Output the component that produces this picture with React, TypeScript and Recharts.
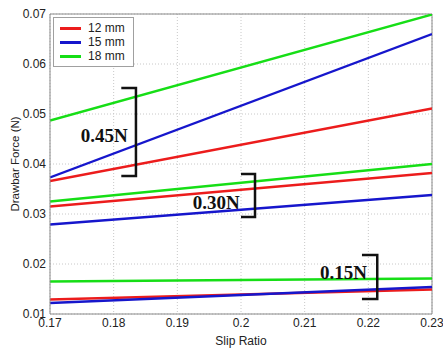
import {
  LineChart, Line, XAxis, YAxis, CartesianGrid, Legend,
  ReferenceLine, ReferenceDot,
} from "recharts";

// ── Data ─────────────────────────────────────────────────────────────────────

const slipRatio = [0.17, 0.23];
const xTicks = [0.17, 0.18, 0.19, 0.2, 0.21, 0.22, 0.23];
const yTicks = [0.01, 0.02, 0.03, 0.04, 0.05, 0.06, 0.07];

const sizeLabels = ["12 mm", "15 mm", "18 mm"];
const sizeColors = ["#ec1c1c", "#1616cc", "#16de16"];

// drawbar force (N), three groups of runs, per wheel size
const forceHigh12 = [0.0366, 0.0511];
const forceHigh15 = [0.0373, 0.0660];
const forceHigh18 = [0.0487, 0.0699];
const forceMid12 = [0.0315, 0.0382];
const forceMid15 = [0.0279, 0.0338];
const forceMid18 = [0.0325, 0.0400];
const forceLow12 = [0.0129, 0.0149];
const forceLow15 = [0.0122, 0.0154];
const forceLow18 = [0.0165, 0.0171];

// bracket annotations: [x left, x right, y top, y bottom], text anchor [x, y]
const bracketLabels = ["0.45N", "0.30N", "0.15N"];
const bracketBoxes = [
  [0.1812, 0.1835, 0.0552, 0.0376],
  [0.2000, 0.2022, 0.0380, 0.0294],
  [0.2190, 0.2214, 0.0218, 0.0130],
];
const bracketTextAt = [
  [0.1822, 0.0458],
  [0.1998, 0.0324],
  [0.2198, 0.0184],
];

// ── Built tables ─────────────────────────────────────────────────────────────

const seriesSets = [
  [forceHigh12, forceHigh15, forceHigh18],
  [forceMid12, forceMid15, forceMid18],
  [forceLow12, forceLow15, forceLow18],
];

const table = slipRatio.map((x, i) => {
  const row: Record<string, number> = { x };
  seriesSets.forEach((set, g) => set.forEach((vals, s) => { row[`g${g}s${s}`] = vals[i]; }));
  return row;
});

const bracketData = bracketBoxes.map(([x0, x1, yt, yb]) => [
  { x: x0, y: yt }, { x: x1, y: yt }, { x: x1, y: yb }, { x: x0, y: yb },
]);

const FONT = "'Liberation Sans', Arial, sans-serif";
const fmt = (v: number) => String(Number(v.toFixed(2)));

function LegendBox() {
  return (
    <div style={{
      border: "1px solid #a0a0a0", background: "#fff", padding: "3px 8px 3px 6px",
      fontFamily: FONT, fontSize: 12, color: "#222", lineHeight: "14px",
    }}>
      {sizeLabels.map((l, i) => (
        <div key={l} style={{ display: "flex", alignItems: "center" }}>
          <span style={{ display: "inline-block", width: 21, height: 3, background: sizeColors[i], marginRight: 7 }} />
          {l}
        </div>
      ))}
    </div>
  );
}

export default function App() {
  return (
    <div style={{ position: "absolute", left: 0, top: 0, background: "#fff" }}>
      <LineChart width={443} height={348} data={table}
        margin={{ top: 14, right: 11, left: 0, bottom: 0 }}>
        <CartesianGrid stroke="#c8c8c8" strokeDasharray="1 2" />
        <XAxis
          dataKey="x" type="number" domain={[0.17, 0.23]} ticks={xTicks}
          tickFormatter={fmt} height={34} tickSize={0} tickMargin={4}
          stroke="#8a8a8a" tick={{ fill: "#222", fontSize: 12, fontFamily: FONT }}
          allowDataOverflow
          label={{ value: "Slip Ratio", position: "insideBottom", offset: 3,
            style: { fill: "#222", fontSize: 12, fontFamily: FONT } }}
        />
        <YAxis
          type="number" domain={[0.01, 0.07]} ticks={yTicks} tickFormatter={fmt}
          width={50} tickSize={0} tickMargin={4} stroke="#8a8a8a"
          tick={{ fill: "#222", fontSize: 12, fontFamily: FONT }}
          allowDataOverflow
          label={{ value: "Drawbar Force (N)", angle: -90, position: "insideLeft", offset: 15,
            style: { fill: "#222", fontSize: 11.5, fontFamily: FONT, textAnchor: "middle" } }}
        />
        <ReferenceLine y={0.07} stroke="#8a8a8a" />
        <ReferenceLine x={0.23} stroke="#8a8a8a" />
        <Legend layout="vertical" align="center" verticalAlign="middle"
          wrapperStyle={{ left: 53, top: 17, width: "auto", height: "auto" }}
          content={() => <LegendBox />} />
        {seriesSets.map((set, g) => set.map((_, s) => (
          <Line key={`g${g}s${s}`} dataKey={`g${g}s${s}`} type="linear"
            stroke={sizeColors[s]} strokeWidth={2.4} dot={false}
            isAnimationActive={false} legendType="none" />
        )))}
        {bracketData.map((d, i) => (
          <Line key={`br${i}`} data={d} dataKey="y" type="linear" stroke="#111"
            strokeWidth={2.5} dot={false} isAnimationActive={false} legendType="none" />
        ))}
        {bracketTextAt.map(([x, y], i) => (
          <ReferenceDot key={`bt${i}`} x={x} y={y} r={0}
            shape={(p: any) => (
              <text x={p.cx} y={p.cy} textAnchor="end" dominantBaseline="central"
                fontFamily="'Liberation Serif', 'Times New Roman', serif"
                fontWeight="bold" fontSize={19} fill="#111">
                {bracketLabels[i]}
              </text>
            )} />
        ))}
      </LineChart>
    </div>
  );
}
